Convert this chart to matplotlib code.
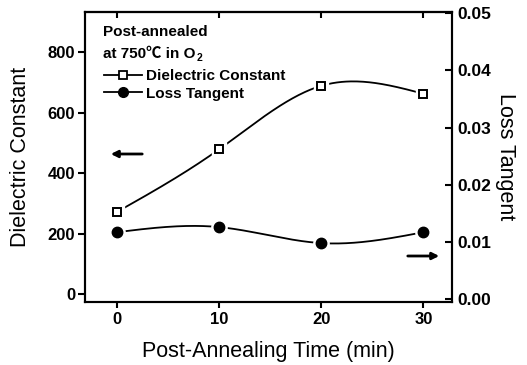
import numpy as np
import matplotlib
matplotlib.use("Agg")
import matplotlib.pyplot as plt
from matplotlib.lines import Line2D

plt.rcParams['font.family'] = ['Liberation Sans', 'Noto Sans CJK SC', 'DejaVu Sans']

time_min = [0, 10, 20, 30]
dielectric_constant = [271, 478, 688, 662]
loss_tangent = [0.0117, 0.0126, 0.0098, 0.0117]


def spline(x, y, n=200):
    # natural cubic spline used only to draw a smooth line through the data
    x = np.asarray(x, float); y = np.asarray(y, float)
    k = len(x); h = np.diff(x)
    A = np.zeros((k, k)); b = np.zeros(k)
    A[0, 0] = A[-1, -1] = 1
    for i in range(1, k - 1):
        A[i, i - 1] = h[i - 1]; A[i, i] = 2 * (h[i - 1] + h[i]); A[i, i + 1] = h[i]
        b[i] = 3 * ((y[i + 1] - y[i]) / h[i] - (y[i] - y[i - 1]) / h[i - 1])
    c = np.linalg.solve(A, b)
    xs = np.linspace(x[0], x[-1], n); ys = np.empty_like(xs)
    for j, xv in enumerate(xs):
        i = min(np.searchsorted(x, xv, side='right') - 1, k - 2)
        d = xv - x[i]
        bi = (y[i + 1] - y[i]) / h[i] - h[i] * (2 * c[i] + c[i + 1]) / 3
        di = (c[i + 1] - c[i]) / (3 * h[i])
        ys[j] = y[i] + bi * d + c[i] * d ** 2 + di * d ** 3
    return xs, ys


fig = plt.figure(figsize=(5.27, 3.65), dpi=100)
ax = fig.add_axes([85 / 527, 1 - 302 / 365, (452 - 85) / 527, (302 - 12) / 365])
ax2 = ax.twinx()

xs, ys = spline(time_min, dielectric_constant)
ax.plot(xs, ys, color='black', lw=1.3, zorder=2)
ax.plot(time_min, dielectric_constant, ls='none', marker='s', ms=10, mfc='white', mec='white', zorder=3)
ax.plot(time_min, dielectric_constant, ls='none', marker='s', ms=6, mfc='white', mec='black', mew=1.4, zorder=4)

xs2, ys2 = spline(time_min, loss_tangent)
ax2.plot(xs2, ys2, color='black', lw=1.3, zorder=2)
ax2.plot(time_min, loss_tangent, ls='none', marker='o', ms=11, mfc='white', mec='white', zorder=3)
ax2.plot(time_min, loss_tangent, ls='none', marker='o', ms=7.5, mfc='black', mec='black', zorder=4)

ax.set_xlim(-3.1, 32.8)
ax.set_ylim(-26, 932)
ax2.set_ylim(-0.0005, 0.0502)

ax.set_xticks([0, 10, 20, 30])
ax.set_yticks([0, 200, 400, 600, 800])
ax2.set_yticks([0.0, 0.01, 0.02, 0.03, 0.04, 0.05])
ax2.set_yticklabels(['0.00', '0.01', '0.02', '0.03', '0.04', '0.05'])

for a in (ax, ax2):
    for s in a.spines.values():
        s.set_linewidth(1.5)
ax.tick_params(axis='y', direction='out', length=5, width=1.5, labelsize=12, pad=2)
ax.tick_params(axis='x', direction='out', length=4, width=1.5, labelsize=12, pad=3)
ax2.tick_params(axis='y', direction='in', length=5, width=1.5, labelsize=12.5, pad=4)
top = ax.secondary_xaxis('top')
top.set_xticks([0, 10, 20, 30])
top.tick_params(direction='in', length=4, width=1.5, labeltop=False)
top.spines['top'].set_linewidth(1.5)
for lab in ax.get_xticklabels() + ax.get_yticklabels() + ax2.get_yticklabels():
    lab.set_fontweight('bold')

ax.set_xlabel('Post-Annealing Time (min)', fontsize=15.5, labelpad=10)
ax.set_ylabel('Dielectric Constant', fontsize=15.5, labelpad=12)
ax2.set_ylabel('Loss Tangent', fontsize=15.5, rotation=270, labelpad=18)

ax.text(0.05, 0.955, 'Post-annealed', transform=ax.transAxes,
        fontsize=11, fontweight='bold', va='top', ha='left')
t2 = ax.text(0.05, 0.878, 'at 750\u2103 in O', transform=ax.transAxes,
             fontsize=11, fontweight='bold', va='top', ha='left')
ax.annotate('2', xy=(1, 0), xycoords=t2, xytext=(0.3, -1.0), textcoords='offset points',
            fontsize=7.5, fontweight='bold', va='bottom', ha='left')

handles = [
    Line2D([], [], color='black', lw=1.3, marker='s', ms=6, mfc='white', mec='black', mew=1.3),
    Line2D([], [], color='black', lw=1.3, marker='o', ms=7, mfc='black', mec='black'),
]
leg = ax.legend(handles, ['Dielectric Constant', 'Loss Tangent'], loc='upper left',
                bbox_to_anchor=(0.035, 0.825), frameon=False, handlelength=2.5,
                handletextpad=0.25, labelspacing=0.25, borderaxespad=0,
                prop={'weight': 'bold', 'size': 11})

ax.annotate('', xy=(108 / 527, 1 - 154 / 365), xytext=(145 / 527, 1 - 154 / 365),
            xycoords='figure fraction', textcoords='figure fraction',
            arrowprops=dict(arrowstyle='-|>', color='black', lw=2, mutation_scale=10))
ax.annotate('', xy=(442 / 527, 1 - 256 / 365), xytext=(405 / 527, 1 - 256 / 365),
            xycoords='figure fraction', textcoords='figure fraction',
            arrowprops=dict(arrowstyle='-|>', color='black', lw=2, mutation_scale=10))

fig.savefig('out.png', dpi=100)
